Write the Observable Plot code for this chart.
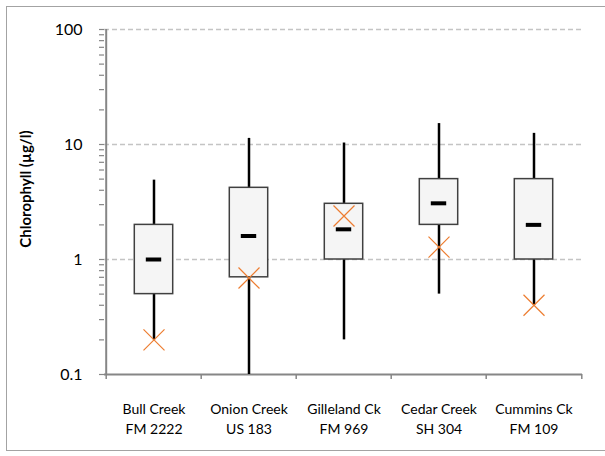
<!DOCTYPE html>
<html>
<head>
<meta charset="utf-8">
<script src="https://cdn.jsdelivr.net/npm/d3@7"></script>
<script src="https://cdn.jsdelivr.net/npm/@observablehq/plot@0.6"></script>
<style>
  html, body { margin: 0; padding: 0; background: #fff; overflow: hidden; }
  #wrap { position: relative; width: 605px; height: 456px; overflow: hidden; }
  #border { position: absolute; left: 6px; top: 6px; width: 620px; height: 445px;
            border: 1.5px solid #a3a3a3; box-sizing: border-box; pointer-events: none; }
</style>
</head>
<body>
<div id="wrap"><div id="border"></div></div>
<script>
// Data
const sites = ["Bull Creek", "Onion Creek", "Gilleland Ck", "Cedar Creek", "Cummins Ck"];
const roads = ["FM 2222", "US 183", "FM 969", "SH 304", "FM 109"];
const whiskerLow  = [0.2, 0.1, 0.2, 0.5, 0.4];
const q1          = [0.5, 0.7, 1.0, 2.0, 1.0];
const median      = [1.0, 1.6, 1.83, 3.08, 2.0];
const q3          = [2.0, 4.2, 3.05, 5.0, 5.0];
const whiskerHigh = [4.9, 11.3, 10.3, 15.2, 12.5];
const marker      = [0.2, 0.69, 2.39, 1.28, 0.4];
const majorTicks  = [0.1, 1, 10, 100];
const minorTicks  = [0.2,0.3,0.4,0.5,0.6,0.7,0.8,0.9, 2,3,4,5,6,7,8,9, 20,30,40,50,60,70,80,90];
const yLabel = "Chlorophyll (µg/l)";

const data = sites.map((s, i) => ({
  site: s, lo: whiskerLow[i], q1: q1[i], med: median[i], q3: q3[i], hi: whiskerHigh[i], mark: marker[i]
}));

const W = 605, H = 456, ML = 104, MR = 23, MT = 29, MB = 82;
const bw = (W - ML - MR) / sites.length;
const boxInset = (bw - 39) / 2;
const medInset = (bw - 16) / 2;
const axisColor = "#868686";

const chart = Plot.plot({
  width: W, height: H,
  marginLeft: ML, marginRight: MR, marginTop: MT, marginBottom: MB,
  style: { fontFamily: "Lato, 'Liberation Sans', sans-serif", background: "transparent", overflow: "visible", color: "#000" },
  x: { domain: sites, padding: 0, axis: null, label: null },
  y: { type: "log", domain: [0.1, 100], axis: null, label: null },
  marks: [
    Plot.ruleY(majorTicks.slice(1), { stroke: "#c4c4c4", strokeWidth: 1.3, strokeDasharray: "5,3" }),
    Plot.axisY({ ticks: minorTicks, tickSize: 5, text: null, label: null, stroke: axisColor, strokeWidth: 1.2 }),
    Plot.axisY({ ticks: majorTicks, tickSize: 5, tickPadding: 17, label: null, stroke: axisColor, strokeWidth: 1.2,
                 tickFormat: d => String(d), fontSize: 16, fontWeight: 400, fill: "#000" }),
    Plot.ruleX([sites[0]], { dx: -bw / 2, stroke: axisColor, strokeWidth: 2 }),
    Plot.ruleY([0.1], { stroke: axisColor, strokeWidth: 2 }),
    Plot.axisX({ tickSize: 5, text: null, label: null, dx: -bw / 2, stroke: axisColor, strokeWidth: 1.5 }),
    Plot.axisX({ ticks: [sites[sites.length - 1]], tickSize: 5, text: null, label: null, dx: bw / 2, stroke: axisColor, strokeWidth: 1.5 }),
    Plot.axisX({ tickSize: 0, tickPadding: 25, label: null, fontSize: 14, lineHeight: 1.45, fill: "#000",
                 tickFormat: d => d + "\n" + roads[sites.indexOf(d)] }),
    Plot.ruleX(data, { x: "site", y1: "lo", y2: "hi", stroke: "#000", strokeWidth: 2.5 }),
    Plot.barY(data, { x: "site", y1: "q1", y2: "q3", fill: "#f5f5f5", stroke: "#404040", strokeWidth: 1.5,
                      insetLeft: boxInset, insetRight: boxInset }),
    Plot.tickY(data, { x: "site", y: "med", stroke: "#000", strokeWidth: 4, insetLeft: medInset, insetRight: medInset }),
    Plot.dot(data, { x: "site", y: "mark", symbol: "times", r: 9.6, stroke: "#ED7D31", strokeWidth: 1.2 }),
    Plot.text([yLabel], { text: d => d, frameAnchor: "left", textAnchor: "middle", rotate: -90, dx: -78, dy: -13,
                          fontWeight: "bold", fontSize: 15, fill: "#000" })
  ]
});
document.getElementById("wrap").prepend(chart);
</script>
</body>
</html>
